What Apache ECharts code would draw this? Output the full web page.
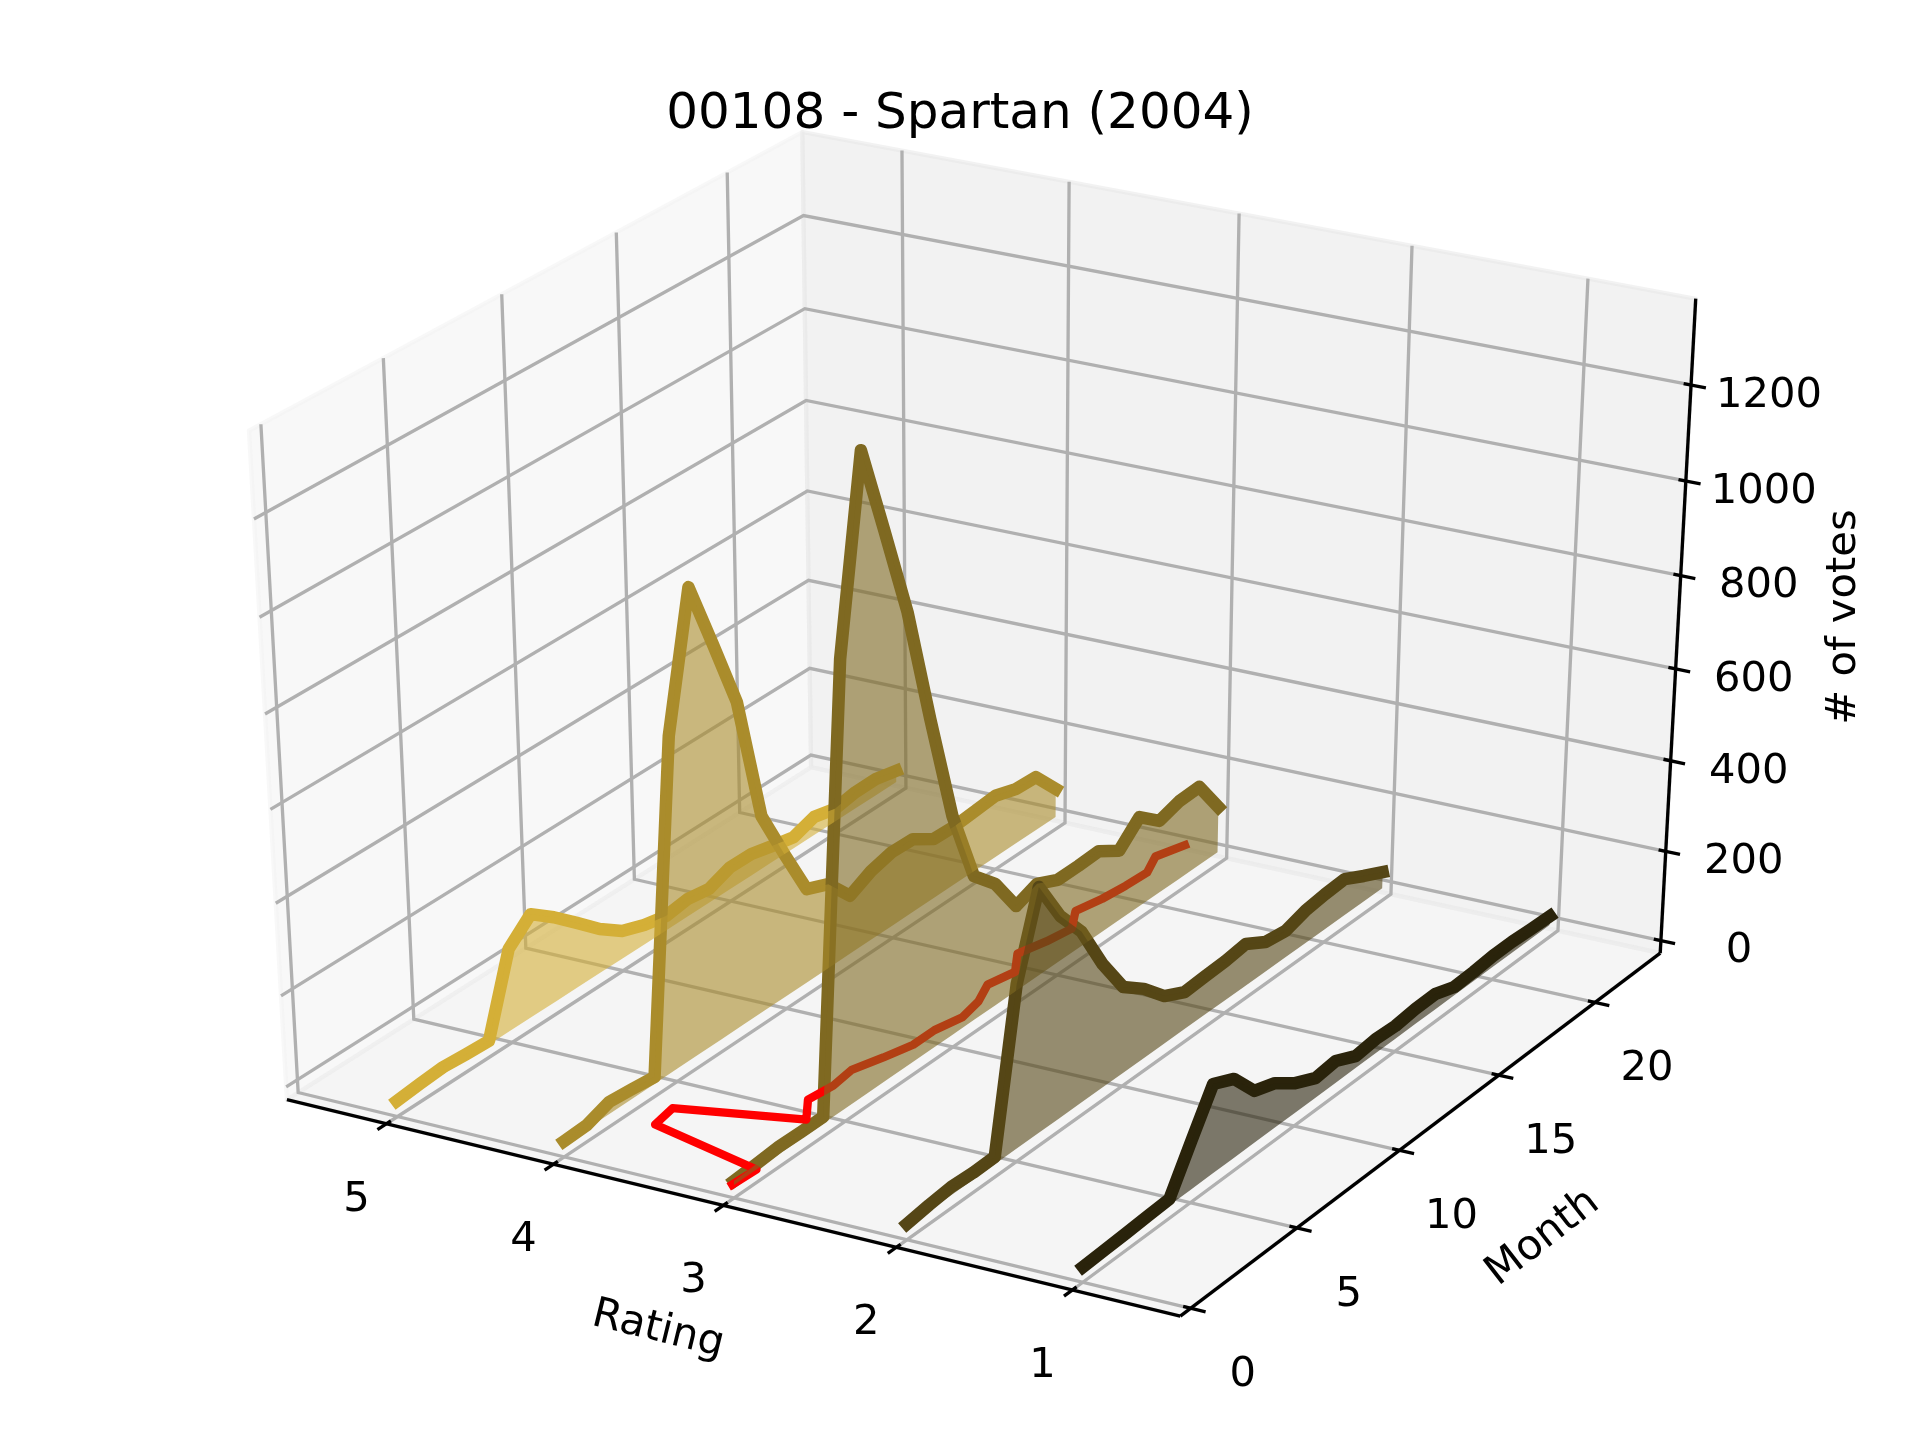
<!DOCTYPE html>
<html><head><meta charset="utf-8"><style>html,body{margin:0;background:#fff}#c{width:1920px;height:1440px}</style>
<script src="https://cdn.jsdelivr.net/npm/echarts@6/dist/echarts.min.js"></script></head>
<body><div id="c"></div><script>
const title = '00108 - Spartan (2004)';
const ratingTicks = [5, 4, 3, 2, 1];
const monthTicks = [0, 5, 10, 15, 20];
const voteTicks = [0, 200, 400, 600, 800, 1000, 1200];
const months = [0,1,2,3,4,5,6,7,8,9,10,11,12,13,14,15,16,17,18,19,20,21,22,23];
const votes5 = [6,11,15,11,8,179,224,186,142,97,61,43,32,39,31,49,48,36,25,41,29,37,37,26];
const votes4 = [6,8,26,21,15,718,999,852,701,427,314,206,186,129,153,165,163,133,131,135,139,124,121,64];
const votes3 = [9,12,16,15,15,956,1350,1160,966,714,478,317,269,189,207,185,185,187,157,202,163,177,179,103];
const votes2 = [6,13,18,15,16,357,531,438,373,272,190,154,106,83,86,88,94,67,60,74,80,83,59,37];
const votes1 = [5,7,9,12,14,106,196,174,115,99,66,44,49,27,32,29,34,35,19,21,25,25,22,20];
const meanRating = [3.01,3.00,3.73,3.76,3.10,3.22,3.20,3.22,3.16,3.11,3.11,3.07,3.10,3.17,3.13,3.24,3.19,3.16,3.26,3.22,3.20,3.19,3.26,3.20];

const FONT = '"DejaVu Sans"';
const X0 = 5.5, X1 = 0.5, Y0 = 0, Y1 = 23, Z0 = 0, Z1 = 1349, PAD = 1/48;
const SX = 9900, CX = 984.6, SY = 7329, CY = 703, DIST = 10;
const el = 30*Math.PI/180, az = -60*Math.PI/180;
const N = [Math.cos(az)*Math.cos(el), Math.sin(az)*Math.cos(el), Math.sin(el)];
const U = [-Math.sin(az), Math.cos(az), 0];
const V = [-Math.sin(el)*Math.cos(az), -Math.sin(el)*Math.sin(az), Math.cos(el)];
const dot = (a, d) => a[0]*d[0] + a[1]*d[1] + a[2]*d[2];
// box coordinates (0..1 on each axis, panes reach slightly outside) to the flat plane
function flat(a, b, c) {
  const d = [a-.5, b-.5, c-.5], w = DIST - dot(N, d);
  return [CX + SX*dot(U, d)/w, CY - SY*dot(V, d)/w];
}
const nx = r => (r-X0)/(X1-X0), ny = m => (m-Y0)/(Y1-Y0), nz = v => (v-Z0)/(Z1-Z0);
const project = (r, m, v) => flat(nx(r), ny(m), nz(v));
const lo = -PAD, hi = 1+PAD;

function shapes(id, items, z) {
  return {type:'custom', id, z, coordinateSystem:'cartesian2d', silent:true, clip:false, animation:false,
    data: items.map((_, i) => [i, 0]),
    renderItem(p, api) {
      const it = items[p.dataIndex], pts = (it.pts||[]).map(q => api.coord(q));
      if (it.text !== undefined) {
        const c = api.coord(it.at);
        return {type:'text', x:c[0], y:c[1], rotation:it.rot||0,
          style:{text:it.text, x:0, y:0, align:'center', verticalAlign:'middle', fill:'#000', font:'41.67px '+FONT}};
      }
      if (it.fill) return {type:'polygon', shape:{points:pts}, style:{fill:it.fill, stroke:it.stroke||null, lineWidth:it.width||0, lineJoin:'round'}};
      return {type:'polyline', shape:{points:pts}, style:{fill:null, stroke:it.stroke, lineWidth:it.width, lineCap:'butt', lineJoin:'miter'}};
    }};
}

const pane = (c, corners) => ({fill:`rgba(${c},${c},${c},0.5)`, stroke:`rgba(${c},${c},${c},0.5)`, width:4.2, pts:corners.map(q => flat(...q))});
const panes = [
  pane(242, [[lo,lo,lo],[lo,lo,hi],[lo,hi,hi],[lo,hi,lo]]),
  pane(230, [[lo,hi,lo],[lo,hi,hi],[hi,hi,hi],[hi,hi,lo]]),
  pane(236, [[lo,lo,lo],[lo,hi,lo],[hi,hi,lo],[hi,lo,lo]])
];
const G = 'rgb(176,176,176)', LW = 3.33;
const grid = [];
ratingTicks.forEach(r => { const s = nx(r); grid.push({stroke:G, width:LW, pts:[flat(s,lo,lo),flat(s,hi,lo),flat(s,hi,hi)]}); });
monthTicks.forEach(m => { const s = ny(m); grid.push({stroke:G, width:LW, pts:[flat(hi,s,lo),flat(lo,s,lo),flat(lo,s,hi)]}); });
voteTicks.forEach(v => { const s = nz(v); grid.push({stroke:G, width:LW, pts:[flat(lo,lo,s),flat(lo,hi,s),flat(hi,hi,s)]}); });

const axes = [
  {stroke:'#000', width:LW, pts:[flat(lo,lo,lo),flat(hi,lo,lo)]},
  {stroke:'#000', width:LW, pts:[flat(hi,lo,lo),flat(hi,hi,lo)]},
  {stroke:'#000', width:LW, pts:[flat(hi,hi,lo),flat(hi,hi,hi)]}
];
const TIN = 1/120, TOUT = 1/60;
ratingTicks.forEach(r => { const s = nx(r); axes.push({stroke:'#000', width:LW, pts:[flat(s,lo+TIN,lo),flat(s,lo-TOUT,lo)]}); });
monthTicks.forEach(m => { const s = ny(m); axes.push({stroke:'#000', width:LW, pts:[flat(hi-TIN,s,lo),flat(hi+TOUT,s,lo)]}); });
voteTicks.forEach(v => { const s = nz(v); axes.push({stroke:'#000', width:LW, pts:[flat(hi-TIN,hi,s),flat(hi+TOUT,hi,s)]}); });

const off = (p, a, b) => [p[0]+a, p[1]+b];
const labels = [];
ratingTicks.forEach(r => labels.push({text:String(r), at:off(flat(nx(r),lo,lo),-30,76)}));
monthTicks.forEach(m => labels.push({text:String(m), at:off(flat(hi,ny(m),lo),52,67)}));
voteTicks.forEach(v => labels.push({text:String(v), at:off(flat(hi,hi,nz(v)),78,11)}));
labels.push({text:'Rating', at:[658,1330], rot:-0.24});
labels.push({text:'Month', at:[1543,1238], rot:0.66});
labels.push({text:'# of votes', at:[1844,617], rot:Math.PI/2});

const base = [212,175,55];
const tint = r => base.map(c => Math.round(c*r/5));
const table = [[5,votes5],[4,votes4],[3,votes3],[2,votes2],[1,votes1]];

const lineSeries = table.map(([r, vals]) => ({
  type:'line', name:'Rating '+r, z:4, silent:true, animation:false, clip:false, showSymbol:false, symbol:'none',
  data: vals.map((v, i) => project(r, months[i], v)),
  lineStyle:{width:12.5, color:`rgb(${tint(r)})`, cap:'square', join:'round', opacity:1}
}));
const redSeries = {type:'line', name:'Mean rating', z:5, silent:true, animation:false, clip:false, showSymbol:false, symbol:'none',
  data: meanRating.map((v, i) => project(v, months[i], 0)),
  lineStyle:{width:8.33, color:'#ff0000', cap:'square', join:'round', opacity:1}};
const fillSeries = table.map(([r, vals], k) => shapes('fill'+r, [{
  fill:`rgba(${tint(r)},0.6)`,
  pts: vals.map((v, i) => project(r, months[i], v)).concat(vals.map((v, i) => project(r, months[i], 0)).reverse())
}], 6+k));

const chart = echarts.init(document.getElementById('c'), null, {renderer:'canvas', width:1920, height:1440});
chart.setOption({
  backgroundColor:'#fff', animation:false, tooltip:{show:false}, legend:{show:false},
  title:{text:title, left:955, top:85, textAlign:'center', textStyle:{fontFamily:FONT, fontSize:50, fontWeight:'normal', color:'#000'}},
  grid:{left:0, top:0, right:0, bottom:0},
  xAxis:{type:'value', min:0, max:1920, show:false},
  yAxis:{type:'value', min:0, max:1440, inverse:true, show:false},
  series:[shapes('panes',panes,1), shapes('grid',grid,2), shapes('axes',axes,3), ...lineSeries, redSeries, ...fillSeries, shapes('labels',labels,12)]
});
</script></body></html>
